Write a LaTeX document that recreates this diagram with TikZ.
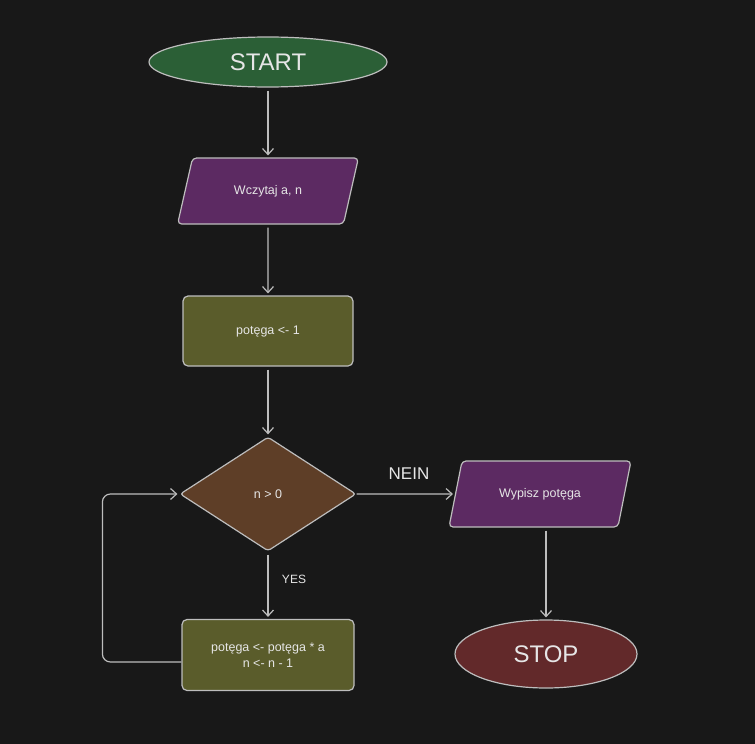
\documentclass[tikz,border=0pt]{standalone}
\usepackage{fontspec}
\setmainfont{Liberation Sans}
\usetikzlibrary{shapes.geometric,arrows.meta}

\definecolor{bgcol}{HTML}{181818}
\definecolor{edgecol}{HTML}{BDBDBD}
\definecolor{txtcol}{HTML}{E6E6E6}
\definecolor{termgreen}{HTML}{2B5F36}
\definecolor{termred}{HTML}{62292A}
\definecolor{iopurple}{HTML}{5C2A62}
\definecolor{procolive}{HTML}{5A5C2B}
\definecolor{condbrown}{HTML}{5E3E27}

\tikzset{
  box/.style={draw=edgecol, line width=1.2pt, text=txtcol, font=\fontsize{12.5}{16}\selectfont, align=center},
  terminal/.style={box, ellipse, inner sep=0pt, font=\fontsize{24}{28}\selectfont},
  iobox/.style={box, trapezium, trapezium left angle=68, trapezium right angle=112, trapezium stretches=true, rounded corners=4pt, fill=iopurple, minimum width=182pt, minimum height=66pt},
  procbox/.style={box, rectangle, rounded corners=5pt, fill=procolive},
  decision/.style={box, diamond, fill=condbrown, inner sep=0pt, rounded corners=3pt},
  conn/.style={draw=edgecol, line width=1.2pt, -{Straight Barb[length=6pt,width=11pt]}, shorten <=3pt, shorten >=2pt},
  lbl/.style={text=txtcol, inner sep=0.75pt}
}

\begin{document}
\begin{tikzpicture}[x=1pt,y=1pt,yscale=-1,xscale=1]
    % background and frame
    \fill[bgcol] (0,0) rectangle (755,744);
    \useasboundingbox (0,0) rectangle (755,744);

    % Terminals
    \node[terminal, fill=termgreen, minimum width=238pt, minimum height=50pt] (start) at (268,62) {START};
    \node[terminal, fill=termred, minimum width=182pt, minimum height=68pt] (stop) at (546,654) {STOP};

    % Input / output
    \node[iobox] (wczytaj) at (268,191) {Wczytaj a, n};
    \node[iobox] (wypisz) at (540,494) {Wypisz potęga};

    % Processes
    \node[procbox, minimum width=170pt, minimum height=70pt] (init) at (268,331) {potęga <- 1};
    \node[procbox, minimum width=172pt, minimum height=71pt] (update) at (268,655) {potęga <- potęga * a\\n <- n - 1};

    % Decision
    \node[decision, minimum width=176pt, minimum height=114pt] (cond) at (268,494) {n > 0};

    % Connectors
    \draw[conn] (start) -- (wczytaj);
    \draw[conn] (wczytaj) -- (init);
    \draw[conn] (init) -- (cond);
    \draw[conn] (cond) -- (update);
    \draw[conn, shorten <=0pt] (cond) -- (wypisz);
    \draw[conn] (wypisz.south -| stop.north) -- (stop);
    \draw[conn, shorten <=0pt, rounded corners=8pt] ([yshift=7pt]update.west) -- ++(-79,0) |- (cond.west);

    % Labels
    \node[lbl, font=\fontsize{12}{14}\selectfont] (yes) at (294,579) {YES};
    \node[lbl, font=\fontsize{17}{20}\selectfont] (nein) at (409,474) {NEIN};

\end{tikzpicture}
\end{document}
